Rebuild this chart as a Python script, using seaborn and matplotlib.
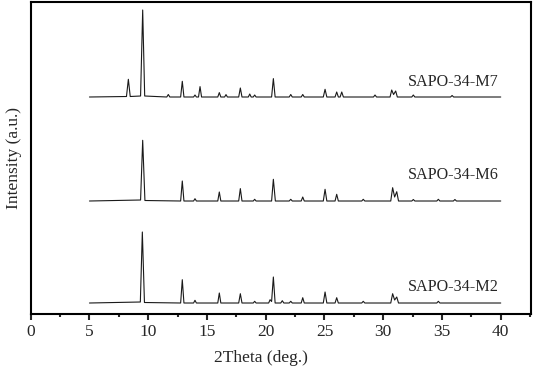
import numpy as np
import pandas as pd
import matplotlib
matplotlib.use("Agg")
import matplotlib.pyplot as plt
import seaborn as sns
from matplotlib.ticker import MultipleLocator

# XRD patterns (2theta in deg., intensity in a.u. above each baseline)
theta_m7 = [5.0, 8.15, 8.31, 8.47, 9.35, 9.53, 9.7, 11.58, 11.71, 11.84, 12.76, 12.9, 13.04,
            13.86, 13.98, 14.1, 14.28, 14.41, 14.54, 15.92, 16.05, 16.18, 16.5, 16.62, 16.74,
            17.7, 17.84, 17.98, 18.52, 18.64, 18.76, 18.94, 19.06, 19.18, 20.5, 20.65, 20.8,
            22.0, 22.13, 22.26, 23.02, 23.15, 23.28, 24.9, 25.05, 25.2, 25.9, 26.04, 26.18,
            26.33, 26.47, 26.61, 29.17, 29.3, 29.43, 30.58, 30.72, 30.88, 31.06, 31.2,
            32.43, 32.56, 32.69, 35.73, 35.86, 35.99, 40.0]
int_m7 = [0, 0.5, 17.7, 0.5, 1, 87, 1, 0, 2.5, 0, 0, 15.7, 0,
          0, 2, 0, 0, 10.4, 0, 0, 4.4, 0, 0, 2.4, 0,
          0, 9, 0, 0, 3, 0, 0, 2, 0, 0, 18.4, 0,
          0, 2.5, 0, 0, 2.5, 0, 0, 7.7, 0, 0, 5, 0,
          0, 5, 0, 0, 2, 0, 0, 7, 2.5, 6, 0,
          0, 2, 0, 0, 1.5, 0, 0]

theta_m6 = [5.0, 9.35, 9.53, 9.72, 12.76, 12.9, 13.04, 13.86, 13.98, 14.1, 15.92, 16.05, 16.18,
            17.7, 17.84, 17.98, 18.94, 19.06, 19.18, 20.5, 20.65, 20.82, 22.0, 22.13, 22.26,
            23.02, 23.15, 23.28, 24.9, 25.05, 25.2, 25.9, 26.04, 26.18, 28.17, 28.3, 28.43,
            30.64, 30.8, 30.97, 31.15, 31.3, 32.43, 32.56, 32.69, 34.56, 34.69, 34.82,
            35.97, 36.1, 36.23, 40.0]
int_m6 = [0, 1, 60.7, 0.5, 0, 20, 0, 0, 2.3, 0, 0, 9, 0,
          0, 12.4, 0, 0, 1.7, 0, 0, 21.7, 0, 0, 1.7, 0,
          0, 4, 0, 0, 11.7, 0, 0, 6.7, 0, 0, 1.7, 0,
          0, 13.3, 4, 9.3, 0, 0, 1.5, 0, 0, 1.7, 0,
          0, 1.5, 0, 0]

theta_m2 = [5.0, 9.33, 9.5, 9.68, 12.76, 12.9, 13.04, 13.86, 13.98, 14.1, 15.92, 16.05, 16.18,
            17.7, 17.84, 17.98, 18.94, 19.06, 19.18, 20.25, 20.37, 20.5, 20.65, 20.8,
            21.28, 21.41, 21.54, 22.0, 22.13, 22.26, 23.02, 23.15, 23.28, 24.9, 25.05, 25.2,
            25.9, 26.04, 26.18, 28.17, 28.3, 28.43, 30.64, 30.8, 30.97, 31.15, 31.3,
            34.56, 34.69, 34.82, 40.0]
int_m2 = [0, 1, 71, 0.5, 0, 23.3, 0, 0, 2.7, 0, 0, 10, 0,
          0, 9.3, 0, 0, 1.7, 0, 0, 3.3, 1.5, 26, 0,
          0, 2.3, 0, 0, 1.7, 0, 0, 5.3, 0, 0, 11, 0,
          0, 5.3, 0, 0, 1.7, 0, 0, 9.3, 3, 6, 0,
          0, 1.7, 0, 0]

samples = ["SAPO-34-M7", "SAPO-34-M6", "SAPO-34-M2"]
offsets = [217, 113, 11]
label_shift = [15, 26, 16]

frames = []
for name, tt, ii, off in zip(samples, [theta_m7, theta_m6, theta_m2],
                             [int_m7, int_m6, int_m2], offsets):
    frames.append(pd.DataFrame({"theta": tt, "intensity": np.array(ii) + off, "sample": name}))
df = pd.concat(frames, ignore_index=True)

sns.set_theme(style="ticks")
plt.rcParams["font.family"] = ["Liberation Serif", "DejaVu Serif"]

fig = plt.figure(figsize=(5.33, 3.67), dpi=100)
ax = fig.add_axes([0.0576, 0.1444, 0.9381, 0.8515])

sns.lineplot(data=df, x="theta", y="intensity", hue="sample", units="sample",
             estimator=None, palette=["#1a1a1a"] * 3, linewidth=0.8, legend=False, ax=ax)

for name, off, sh in zip(samples, offsets, label_shift):
    ax.text(39.8, off + sh, name, ha="right", va="center", fontsize=11.6)

ax.set_xlim(0, 42.55)
ax.set_ylim(0, 312.5)
ax.xaxis.set_major_locator(MultipleLocator(5))
ax.xaxis.set_minor_locator(MultipleLocator(2.5))
ax.set_yticks([])
ax.tick_params(axis="x", which="major", direction="out", length=4, width=1.5, labelsize=12.5, pad=3)
ax.tick_params(axis="x", which="minor", direction="out", length=2.5, width=1.5)
for sp in ax.spines.values():
    sp.set_visible(True)
    sp.set_linewidth(1.5)
    sp.set_color("black")
ax.set_xlabel("2Theta (deg.)", fontsize=12.5)
ax.xaxis.set_label_coords(0.46, -0.115)
ax.set_ylabel("Intensity (a.u.)", fontsize=12.5, labelpad=6)

fig.savefig("out.png", dpi=100)
